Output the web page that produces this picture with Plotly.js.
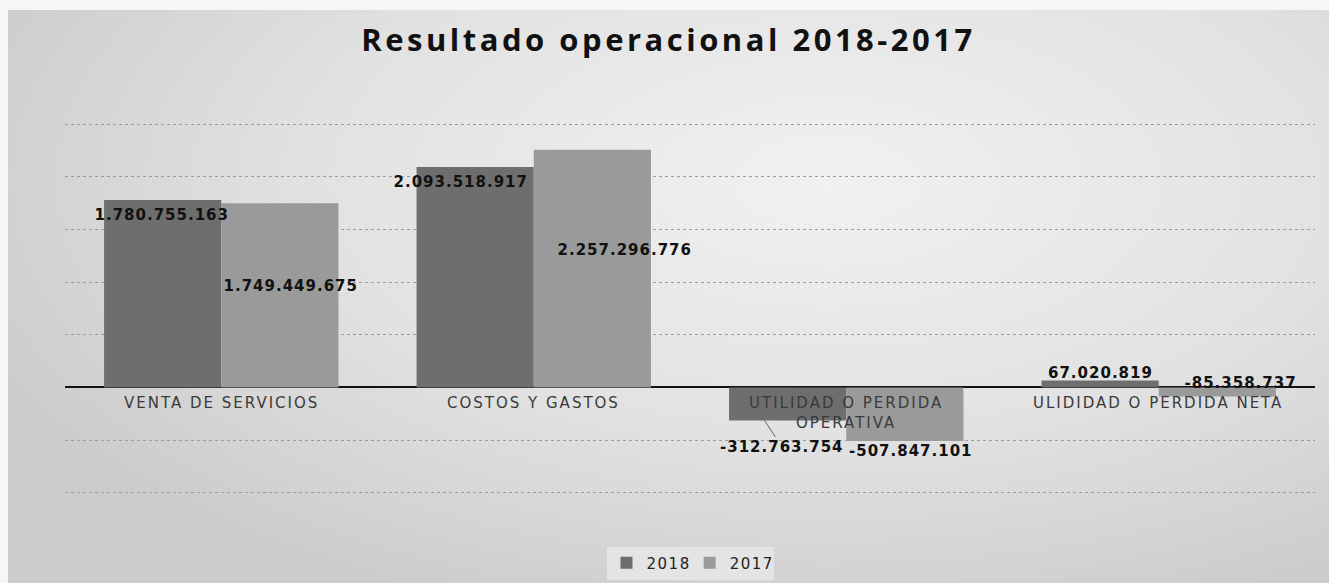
<!DOCTYPE html>
<html>
<head>
<meta charset="utf-8">
<script src="https://cdn.plot.ly/plotly-3.0.1.min.js"></script>
<style>
  html, body { margin: 0; padding: 0; background: #f6f6f6; }
  #chart { position: absolute; left: 8px; top: 10px; width: 1321px; height: 573px;
    background: radial-gradient(ellipse 70% 80% at 62% 30%, #f1f1f1 0%, #e2e2e2 55%, #cccccc 100%); }
  #chart .gtitle { letter-spacing: 3.5px; }
  #chart .annotation-text.dl { letter-spacing: 1px; }
  #chart .annotation-text.cat { letter-spacing: 2px; }
  #chart .legendtext { letter-spacing: 1.5px; }
</style>
</head>
<body>
<div id="chart"></div>
<script>
const categories = ["VENTA DE SERVICIOS", "COSTOS Y GASTOS", "UTILIDAD O PERDIDA<br>OPERATIVA", "ULIDIDAD O PERDIDA NETA"];
const values2018 = [1780755163, 2093518917, -312763754, 67020819];
const values2017 = [1749449675, 2257296776, -507847101, -85358737];
const seriesNames = ["2018", "2017"];

function fmt(v) {
  const s = Math.abs(v).toString().replace(/\B(?=(\d{3})+(?!\d))/g, ".");
  return (v < 0 ? "-" : "") + s;
}

const labelFont = { family: "DejaVu Sans", size: 15, color: "#111", weight: 700 };
const catFont = { family: "DejaVu Sans", size: 15, color: "#3a3a3a" };

const traces = [
  { type: "bar", name: seriesNames[0], x: [0,1,2,3], y: values2018,
    marker: { color: "#6e6e6e", line: { width: 0 } }, hoverinfo: "none" },
  { type: "bar", name: seriesNames[1], x: [0,1,2,3], y: values2017,
    marker: { color: "#9a9a9a", line: { width: 0 } }, hoverinfo: "none" }
];

const annotations = [];
categories.forEach((c, i) => {
  annotations.push({ x: i, y: 0, xref: "x", yref: "y", text: c, showarrow: false,
    yanchor: "top", yshift: -5, font: catFont, align: "center" });
});
const a = (x, y, v, yanchor, yshift, extra) => Object.assign({
  x: x, y: y, xref: "x", yref: "y", text: fmt(v), showarrow: false,
  yanchor: yanchor, yshift: yshift, font: labelFont }, extra || {});
annotations.push(a(0 - 0.19, values2018[0], values2018[0], "top", -4));
annotations.push(a(0 + 0.22, values2017[0] * 0.55, values2017[0], "middle", 0));
annotations.push(a(1 - 0.235, values2018[1], values2018[1], "top", -4));
annotations.push(a(1 + 0.29, values2017[1] * 0.58, values2017[1], "middle", 0));
annotations.push({ x: 2 - 0.262, y: values2018[2], xref: "x", yref: "y", text: fmt(values2018[2]),
  showarrow: true, arrowhead: 0, arrowwidth: 1, arrowcolor: "#666", ax: 18, ay: 27,
  font: labelFont, standoff: 0 });
annotations.push(a(2 + 0.208, values2017[2], values2017[2], "top", 1));
annotations.push(a(3 - 0.187, values2018[3], values2018[3], "bottom", -4));
annotations.push(a(3 + 0.26, 0, values2017[3], "bottom", -7));

const layout = {
  width: 1321, height: 573,
  paper_bgcolor: "rgba(0,0,0,0)", plot_bgcolor: "rgba(0,0,0,0)",
  margin: { l: 57, r: 14, t: 113, b: 89, autoexpand: false },
  title: { text: "<b>Resultado operacional 2018-2017</b>", x: 0.5, xanchor: "center",
    y: 0.948, yanchor: "middle",
    font: { family: "Open Sans", size: 31, color: "#111" } },
  barmode: "group", bargap: 0.25, bargroupgap: 0,
  xaxis: { type: "linear", range: [-0.5, 3.5], showticklabels: false, showgrid: false,
    zeroline: false, showline: false, ticks: "" },
  yaxis: { range: [-1012000000, 2512000000], dtick: 500000000, tick0: 0, showticklabels: false,
    showgrid: true, gridcolor: "#9c9c9c", griddash: "dot", gridwidth: 1,
    zeroline: true, zerolinecolor: "#111", zerolinewidth: 2, ticks: "" },
  showlegend: true,
  legend: { orientation: "h", x: 0.5, xanchor: "center", y: -0.186, yanchor: "middle",
    bgcolor: "#e4e4e4", font: { family: "DejaVu Sans", size: 15, color: "#222" },
    itemwidth: 30, traceorder: "normal" },
  annotations: annotations
};

Plotly.newPlot("chart", traces, layout, { displayModeBar: false, staticPlot: true }).then(() => {
  const items = document.querySelectorAll("#chart .annotation");
  items.forEach((el, i) => {
    const t = el.querySelector(".annotation-text");
    if (t) t.classList.add(i < categories.length ? "cat" : "dl");
  });
});
</script>
</body>
</html>
